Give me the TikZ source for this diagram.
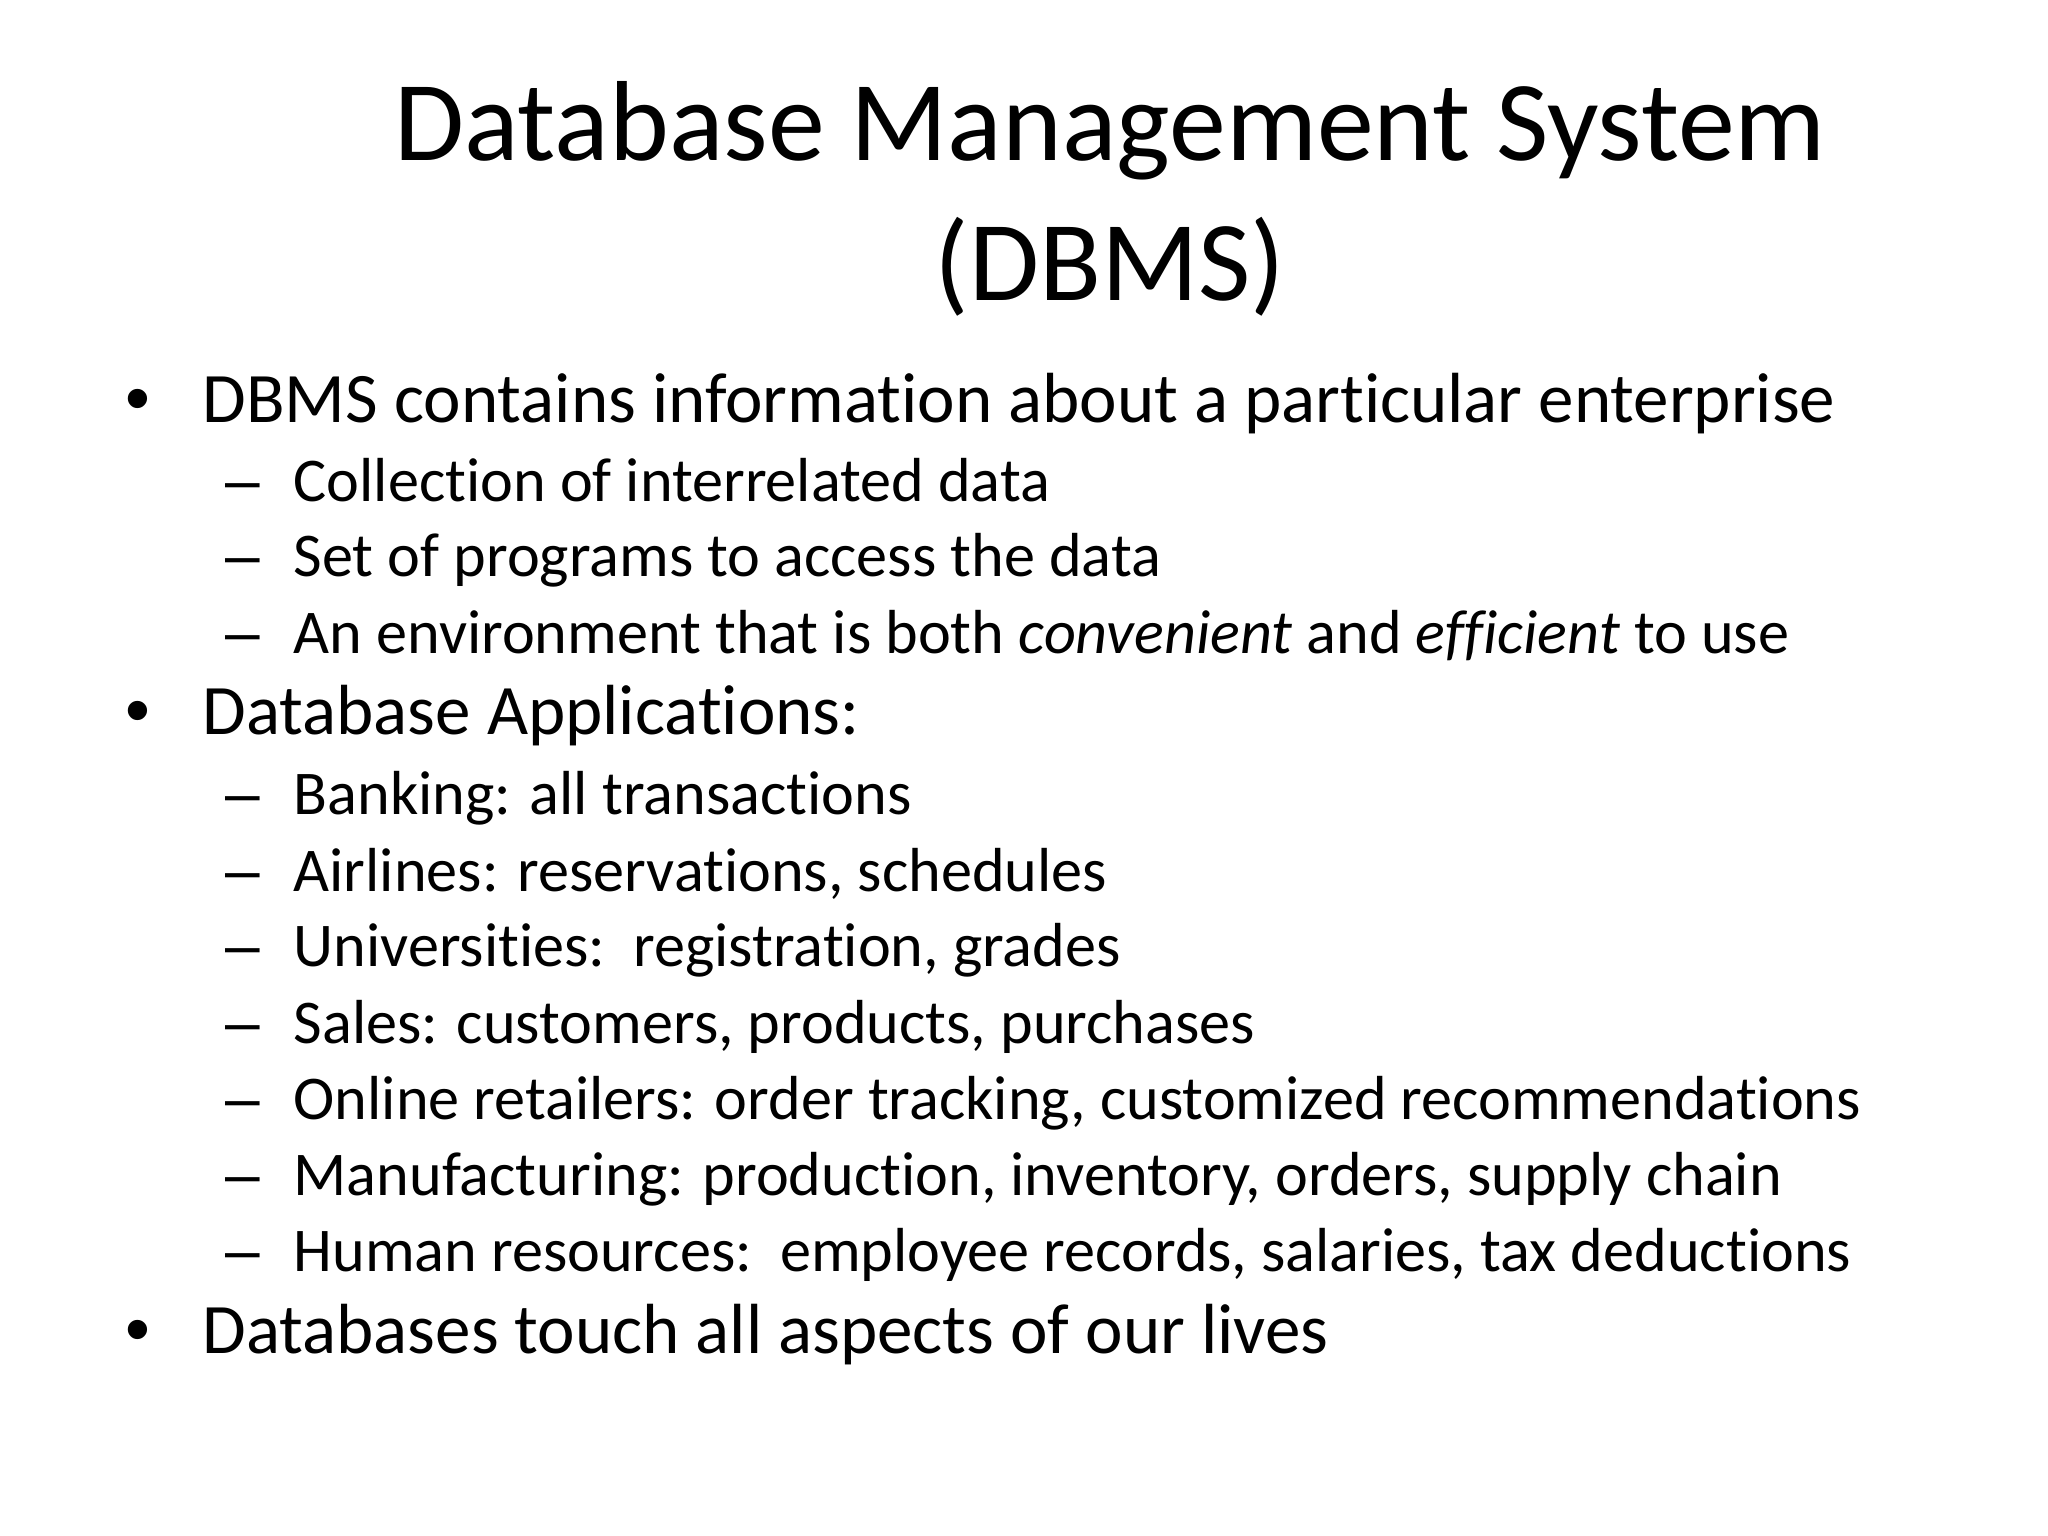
\documentclass[tikz,border=0pt]{standalone}
\usepackage{fontspec}
\setmainfont{Carlito}[Ligatures={NoCommon}]
\newfontfamily\dashfont{Liberation Sans}
\begin{document}
\begin{tikzpicture}[x=1cm,y=1cm,
  ttl/.style={anchor=base,font=\fontsize{32.4}{38}\selectfont},
  lone/.style={anchor=base west,inner sep=0pt,font=\fontsize{20.2}{24}\selectfont},
  ltwo/.style={anchor=base west,inner sep=0pt,font=\fontsize{17.7}{21}\selectfont}]
\useasboundingbox (0,0) rectangle (20.48,-15.36);
\node[ttl] (t1) at (11.1,-1.61) {Database Management System};
\node[ttl] (t2) at (11.1,-3.01) {(DBMS)};
\def\bl#1#2#3{\node[lone] (b#1) at (1.25,-#2) {\dashfont•}; \node[lone] (bt#1) at (2.02,-#2) {#3};}
\def\sl#1#2#3{\node[ltwo] (s#1) at (2.25,-#2) {\dashfont–}; \node[ltwo] (st#1) at (2.93,-#2) {#3};}
\bl{1}{4.22}{DBMS contains information about a particular enterprise}
\sl{1}{5.02}{Collection of interrelated data}
\sl{2}{5.77}{Set of programs to access the data}
\sl{3}{6.53}{An environment that is both \textit{convenient} and \textit{efficient} to use}
\bl{2}{7.35}{Database Applications:}
\sl{4}{8.14}{Banking: all transactions}
\sl{5}{8.91}{Airlines: reservations, schedules}
\sl{6}{9.66}{Universities:\ \ registration, grades}
\sl{7}{10.43}{Sales: customers, products, purchases}
\sl{8}{11.19}{Online retailers: order tracking, customized recommendations}
\sl{9}{11.95}{Manufacturing: production, inventory, orders, supply chain}
\sl{10}{12.71}{Human resources:\ \ employee records, salaries, tax deductions}
\bl{3}{13.53}{Databases touch all aspects of our lives}
\end{tikzpicture}
\end{document}
